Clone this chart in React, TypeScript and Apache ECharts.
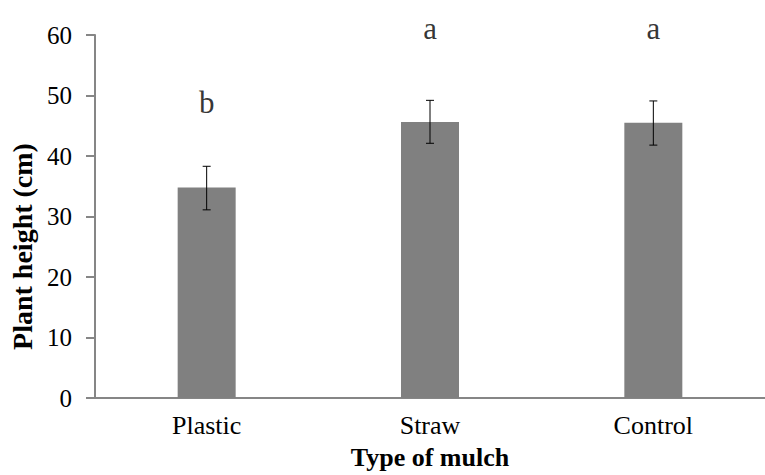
import React, { useEffect, useRef } from "react";
import * as echarts from "echarts";

const categories = ["Plastic", "Straw", "Control"];
const heights = [34.8, 45.6, 45.5];
const errLow = [31.1, 42.1, 41.8];
const errHigh = [38.3, 49.2, 49.1];
const letters = ["b", "a", "a"];
const letterPos = [48.9, 61.0, 61.0];

const FONT = "'Liberation Serif', 'Times New Roman', serif";
const AXIS_COLOR = "#868686";

export default function App() {
  const ref = useRef<HTMLDivElement>(null);
  useEffect(() => {
    if (!ref.current) return;
    const chart = echarts.init(ref.current, undefined, { renderer: "svg" });
    chart.setOption({
      animation: false,
      backgroundColor: "#ffffff",
      grid: { left: 95, top: 35, bottom: 72, right: -10 },
      xAxis: {
        type: "category",
        data: categories,
        name: "Type of mulch",
        nameLocation: "middle",
        nameGap: 46,
        nameTextStyle: { fontFamily: FONT, fontSize: 26, fontWeight: "bold", color: "#000" },
        axisLine: { lineStyle: { color: AXIS_COLOR, width: 2 } },
        axisTick: { show: false },
        axisLabel: { fontFamily: FONT, fontSize: 26, color: "#000", margin: 14 },
      },
      yAxis: {
        type: "value",
        min: 0,
        max: 60,
        interval: 10,
        name: "Plant height (cm)",
        nameLocation: "middle",
        nameGap: 58,
        nameTextStyle: { fontFamily: FONT, fontSize: 28, fontWeight: "bold", color: "#000", padding: [0, 60, 0, 0] },
        axisLine: { show: true, lineStyle: { color: AXIS_COLOR, width: 2 } },
        axisTick: { show: true, length: 9, lineStyle: { color: AXIS_COLOR, width: 2 } },
        splitLine: { show: false },
        axisLabel: { fontFamily: FONT, fontSize: 25, color: "#000", margin: 23 },
      },
      series: [
        {
          type: "bar",
          data: heights,
          barWidth: 58,
          itemStyle: { color: "#808080" },
        },
        {
          type: "custom",
          data: categories.map((_, i) => [i, errLow[i], errHigh[i]]),
          renderItem: (params: any, api: any) => {
            const x = api.value(0);
            const lo = api.coord([x, api.value(1)]);
            const hi = api.coord([x, api.value(2)]);
            const half = 4;
            const style = { stroke: "#000", lineWidth: 1 };
            return {
              type: "group",
              children: [
                { type: "line", shape: { x1: lo[0], y1: lo[1], x2: hi[0], y2: hi[1] }, style },
                { type: "line", shape: { x1: lo[0] - half, y1: lo[1], x2: lo[0] + half, y2: lo[1] }, style },
                { type: "line", shape: { x1: hi[0] - half, y1: hi[1], x2: hi[0] + half, y2: hi[1] }, style },
              ],
            };
          },
          z: 5,
        },
        {
          type: "scatter",
          data: letterPos,
          symbolSize: 0,
          clip: false,
          label: {
            show: true,
            position: "inside",
            formatter: (p: any) => letters[p.dataIndex],
            fontFamily: FONT,
            fontSize: 31,
            color: "#000",
          },
        },
      ],
    });
    return () => chart.dispose();
  }, []);
  return <div ref={ref} style={{ width: 765, height: 475, position: "absolute", left: 0, top: 0 }} />;
}
